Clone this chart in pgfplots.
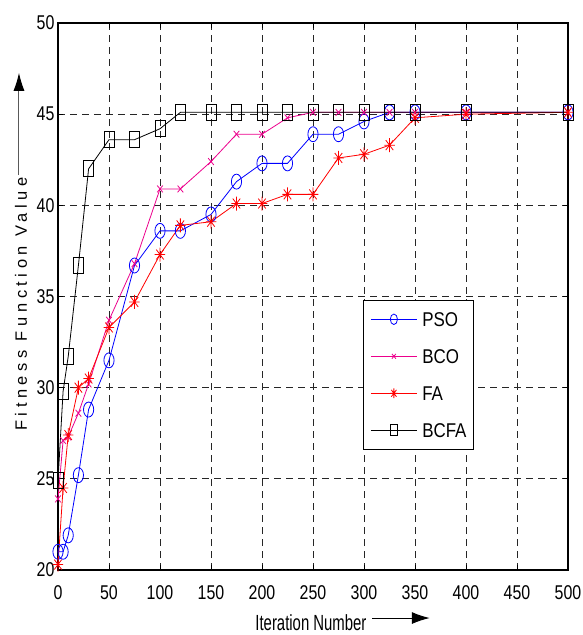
\documentclass[border=0pt]{standalone}
\usepackage{fontspec}
\setmainfont{Liberation Sans}[FakeStretch=0.8]
\newfontfamily\ylabfont{Liberation Sans}[LetterSpace=28]
\newfontfamily\xlabfont{Liberation Sans}[FakeStretch=0.68]
\newfontfamily\legfont{Liberation Sans}[FakeStretch=0.85]
\usepackage{pgfplots}
\pgfplotsset{compat=1.18}
\usetikzlibrary{arrows.meta}

% MATLAB-style star: plus and cross together
\pgfdeclareplotmark{mstar}{%
  \pgfpathmoveto{\pgfqpoint{-\pgfplotmarksize}{0pt}}%
  \pgfpathlineto{\pgfqpoint{\pgfplotmarksize}{0pt}}%
  \pgfpathmoveto{\pgfqpoint{0pt}{-\pgfplotmarksize}}%
  \pgfpathlineto{\pgfqpoint{0pt}{\pgfplotmarksize}}%
  \pgfpathmoveto{\pgfqpoint{-.707\pgfplotmarksize}{-.707\pgfplotmarksize}}%
  \pgfpathlineto{\pgfqpoint{.707\pgfplotmarksize}{.707\pgfplotmarksize}}%
  \pgfpathmoveto{\pgfqpoint{-.707\pgfplotmarksize}{.707\pgfplotmarksize}}%
  \pgfpathlineto{\pgfqpoint{.707\pgfplotmarksize}{-.707\pgfplotmarksize}}%
  \pgfusepathqstroke}

\begin{document}
\begin{tikzpicture}
    \path[use as bounding box] (-58bp,-65bp) rectangle (525bp,570bp);
    \begin{axis}[
        at={(0,0)}, anchor=south west,
        scale only axis,
        width=510bp, height=547bp,
        xmin=0, xmax=500,
        ymin=20, ymax=50,
        xtick={0,50,...,500},
        ytick={20,25,...,50},
        grid=major,
        major grid style={black!85, line width=0.8bp, dash pattern=on 7bp off 5bp},
        axis line style={line width=1.2bp},
        tick align=inside,
        major tick length=5bp,
        tick style={black, line width=0.8bp},
        /pgf/number format/assume math mode=true,
        tick label style={font=\fontsize{20}{20}\selectfont},
        xticklabel style={yshift=-12bp},
        clip=false,
        legend style={
            at={(0.598,0.494)},
            anchor=north west,
            draw=black,
            line width=1bp,
            font=\legfont\fontsize{20}{20}\selectfont,
            row sep=23bp,
            inner xsep=7bp,
            inner ysep=12bp,
            nodes={inner sep=0pt, text height=14bp, text depth=0pt},
            column sep=5bp,
            cells={anchor=west}
        },
        legend image code/.code={
            \draw[mark repeat=2, mark phase=2, line width=0.8bp,
                  every mark/.append style={scale=0.7}]
                plot coordinates {(0bp,0bp) (23bp,0bp) (46bp,0bp)};
        }
    ]

        % PSO
        \addplot[blue, line width=0.8bp, mark=o, mark size=7.5bp,
                 mark options={xscale=0.68, solid}] coordinates {
            (0,21.0) (5,21.0) (10,21.9) (20,25.2) (30,28.8) (50,31.5)
            (75,36.7) (100,38.6) (120,38.6) (150,39.5) (175,41.3)
            (200,42.3) (225,42.3) (250,43.9) (275,43.9) (300,44.6)
            (325,45.1) (350,45.1) (400,45.1) (500,45.1)
        };
        \addlegendentry{PSO}

        % BCO
        \addplot[magenta, line width=0.8bp, mark=x, mark size=4bp,
                 mark options={yscale=1.2, solid}] coordinates {
            (0,23.9) (5,27.1) (10,27.3) (20,28.6) (30,30.2) (50,33.7)
            (75,36.8) (100,40.9) (120,40.9) (150,42.4) (175,43.9)
            (200,43.9) (225,44.8) (250,45.1) (275,45.1) (300,45.1)
            (325,45.1) (350,45.1) (400,45.1) (500,45.1)
        };
        \addlegendentry{BCO}

        % FA
        \addplot[red, line width=0.8bp, mark=mstar, mark size=7bp,
                 mark options={xscale=0.75, solid}] coordinates {
            (0,20.3) (5,24.5) (10,27.4) (20,30.0) (30,30.5) (50,33.3)
            (75,34.7) (100,37.3) (120,38.9) (150,39.1) (175,40.1)
            (200,40.1) (225,40.6) (250,40.6) (275,42.6) (300,42.8)
            (325,43.3) (350,44.8) (400,45.0) (500,45.1)
        };
        \addlegendentry{FA}

        % BCFA
        \addplot[black, line width=0.8bp, mark=square, mark size=8bp,
                 mark options={xscale=0.63, solid}] coordinates {
            (0,24.9) (5,29.8) (10,31.7) (20,36.7) (30,42.0) (50,43.6)
            (75,43.6) (100,44.2) (120,45.1) (150,45.1) (175,45.1)
            (200,45.1) (225,45.1) (250,45.1) (275,45.1) (300,45.1)
            (325,45.1) (350,45.1) (400,45.1) (500,45.1)
        };
        \addlegendentry{BCFA}

        % axis titles with arrows
        \node[rotate=90, font=\ylabfont\fontsize{16.5}{16.5}\selectfont]
            at (axis description cs:-0.0725,0.486) {Fitness Function Value};
        \draw[gray!70!black, line width=1bp,
              -{Latex[length=18bp, width=11bp, black]}]
            (axis description cs:-0.0765,0.722) -- (axis description cs:-0.0765,0.909);

        \node[font=\xlabfont\fontsize{22}{22}\selectfont, inner sep=1bp]
            at (axis description cs:0.496,-0.0955) {Iteration Number};
        \draw[black, line width=1bp,
              -{Latex[length=18bp, width=12bp]}]
            (axis description cs:0.616,-0.0878) -- (axis description cs:0.729,-0.0878);

    \end{axis}
\end{tikzpicture}
\end{document}
